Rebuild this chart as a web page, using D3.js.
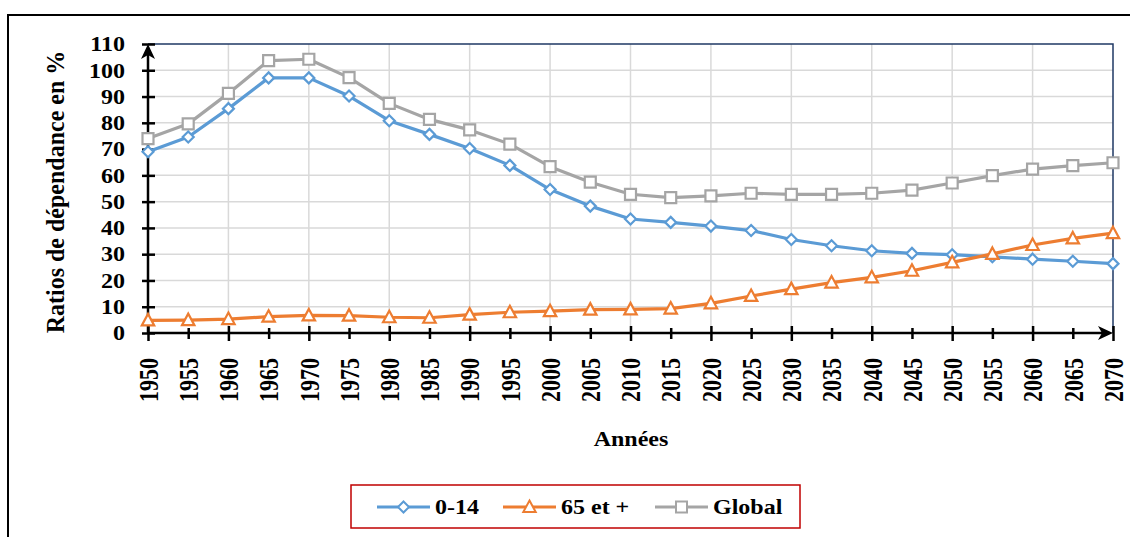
<!DOCTYPE html>
<html><head><meta charset="utf-8">
<script src="https://cdn.jsdelivr.net/npm/d3@7"></script>
<style>
html,body{margin:0;padding:0;background:#fff;}
svg{display:block;font-family:"Liberation Serif","Times New Roman",serif;font-weight:bold;}
</style></head>
<body>
<svg id="chart" width="1130" height="537"></svg>
<script>
const years = [1950,1955,1960,1965,1970,1975,1980,1985,1990,1995,2000,2005,2010,2015,2020,2025,2030,2035,2040,2045,2050,2055,2060,2065,2070];
const age014 = [69.0,74.6,85.4,97.1,97.1,90.2,80.8,75.6,70.2,63.8,54.6,48.3,43.4,42.1,40.7,39.0,35.6,33.2,31.3,30.3,29.8,29.0,28.1,27.3,26.4];
const age65 = [4.8,4.9,5.3,6.2,6.7,6.6,6.0,5.8,7.0,7.9,8.3,8.9,9.0,9.3,11.3,14.1,16.7,19.2,21.2,23.7,26.9,30.1,33.5,36.0,38.0];
const global = [74.0,79.6,91.2,103.7,104.2,97.2,87.4,81.3,77.3,71.9,63.3,57.4,52.8,51.5,52.2,53.2,52.8,52.8,53.2,54.4,57.1,59.9,62.4,63.7,64.8];
const yTicks = [0,10,20,30,40,50,60,70,80,90,100,110];
const seriesNames = ["0-14","65 et +","Global"];
const yTitle = "Ratios de dépendance en %";
const xTitle = "Années";

const colors = ["#5B9BD5","#ED7D31","#A5A5A5"];
const shapes = ["diamond","triangle","square"];
const seriesData = [age014, age65, global];

const svg = d3.select("#chart");
const x = d3.scaleLinear().domain([1950,2070]).range([148,1113]);
const y = d3.scaleLinear().domain([0,110]).range([333,44]);
const SX = 1.2;

// outer frame
svg.append("path").attr("d","M8,545 L8,15 L1140,15").attr("fill","none").attr("stroke","#000").attr("stroke-width",2);

// gridlines
const grid = svg.append("g");
grid.selectAll("line.h").data(yTicks.filter(v=>v>0 && v<110)).join("line")
  .attr("x1",x(1950)).attr("x2",x(2070)).attr("y1",d=>y(d)).attr("y2",d=>y(d))
  .attr("stroke","#d9d9d9").attr("stroke-width",1.5);
grid.selectAll("line.v").data(years.filter(v=>v%10===0 && v>1950 && v<2070)).join("line")
  .attr("y1",y(0)).attr("y2",y(110)).attr("x1",d=>x(d)).attr("x2",d=>x(d))
  .attr("stroke","#d9d9d9").attr("stroke-width",1.5);

// plot border top/right
svg.append("path").attr("d",`M${x(1950)},${y(110)} L${x(2070)},${y(110)} L${x(2070)},${y(0)}`)
  .attr("fill","none").attr("stroke","#1F3864").attr("stroke-width",1.5);

// y axis
const yAxis = svg.append("g").attr("transform",`translate(${x(1950)},0)`)
  .call(d3.axisLeft(y).tickValues(yTicks).tickSize(6));
yAxis.select(".domain").remove();
yAxis.selectAll(".tick line").attr("x1",-6).attr("x2",7).attr("stroke","#000").attr("stroke-width",2.5);
yAxis.selectAll(".tick text").attr("x",0).attr("dy","0.34em")
  .attr("transform",`translate(-23,0) scale(${SX},1)`)
  .attr("text-anchor","end").attr("font-size",20).attr("font-family","Liberation Serif").attr("font-weight","bold").attr("fill","#000");

// x axis
const xAxis = svg.append("g").attr("transform",`translate(0,${y(0)})`)
  .call(d3.axisBottom(x).tickValues(years).tickFormat(d3.format("d")).tickSize(6));
xAxis.select(".domain").remove();
xAxis.selectAll(".tick line").attr("y1",d=>d%10===0?-7:-5).attr("y2",d=>d%10===0?8:6).attr("stroke","#000").attr("stroke-width",2.5);
xAxis.selectAll(".tick text").attr("x",0).attr("y",0).attr("dy","0.35em")
  .attr("transform",`translate(0,25) scale(${SX},1) rotate(-90)`)
  .attr("text-anchor","end").attr("font-size",22).attr("font-family","Liberation Serif").attr("font-weight","bold").attr("fill","#000");

// axis lines with arrows
svg.append("line").attr("x1",x(1950)).attr("x2",x(1950)).attr("y1",y(0)).attr("y2",y(110)+4)
  .attr("stroke","#000").attr("stroke-width",2.5);
svg.append("line").attr("x1",x(1950)).attr("x2",x(2070)-4).attr("y1",y(0)).attr("y2",y(0))
  .attr("stroke","#000").attr("stroke-width",2.5);
svg.append("path").attr("d",`M${x(1950)},${y(110)} l-7,15 l7,-4 l7,4 z`).attr("fill","#000");
svg.append("path").attr("d",`M${x(2070)},${y(0)} l-15,-7 l4,7 l-4,7 z`).attr("fill","#000");

// axis titles
svg.append("text").attr("transform",`translate(64,192) scale(1.05,1) rotate(-90)`)
  .attr("text-anchor","middle").attr("font-size",24).text(yTitle);
svg.append("text").attr("transform",`translate(631,446) scale(${SX},1)`)
  .attr("text-anchor","middle").attr("font-size",20).text(xTitle);

function markerPath(shape){
  if(shape==="diamond") return "M0,-5.5 L5.5,0 L0,5.5 L-5.5,0 Z";
  if(shape==="triangle") return "M0,-6.5 L6.2,5 L-6.2,5 Z";
  return "M-5.5,-5.5 L5.5,-5.5 L5.5,5.5 L-5.5,5.5 Z";
}

const line = d3.line().x((d,i)=>x(years[i])).y(d=>y(d));
// draw order: global, 0-14, 65
[2,0,1].forEach(k=>{
  const g = svg.append("g");
  g.append("path").datum(seriesData[k]).attr("d",line).attr("fill","none")
    .attr("stroke",colors[k]).attr("stroke-width",3.2).attr("stroke-linejoin","round");
  g.selectAll("path.m").data(seriesData[k]).join("path").attr("class","m")
    .attr("transform",(d,i)=>`translate(${x(years[i])},${y(d)})`)
    .attr("d",markerPath(shapes[k])).attr("fill","#fff").attr("stroke",colors[k]).attr("stroke-width",2.2);
});

// legend
const lg = svg.append("g");
lg.append("rect").attr("x",351).attr("y",485).attr("width",449).attr("height",43)
  .attr("fill","#fff").attr("stroke","#C00000").attr("stroke-width",1.5);
const legX = [377,503,655];
seriesNames.forEach((name,k)=>{
  const gx = legX[k], gy = 507;
  lg.append("line").attr("x1",gx).attr("x2",gx+53).attr("y1",gy).attr("y2",gy)
    .attr("stroke",colors[k]).attr("stroke-width",3);
  lg.append("path").attr("transform",`translate(${gx+26.5},${gy})`).attr("d",markerPath(shapes[k]))
    .attr("fill","#fff").attr("stroke",colors[k]).attr("stroke-width",2);
  lg.append("text").attr("transform",`translate(${gx+58},${gy}) scale(${SX},1)`).attr("dy","0.35em")
    .attr("font-size",20).text(name);
});
</script>
</body></html>
